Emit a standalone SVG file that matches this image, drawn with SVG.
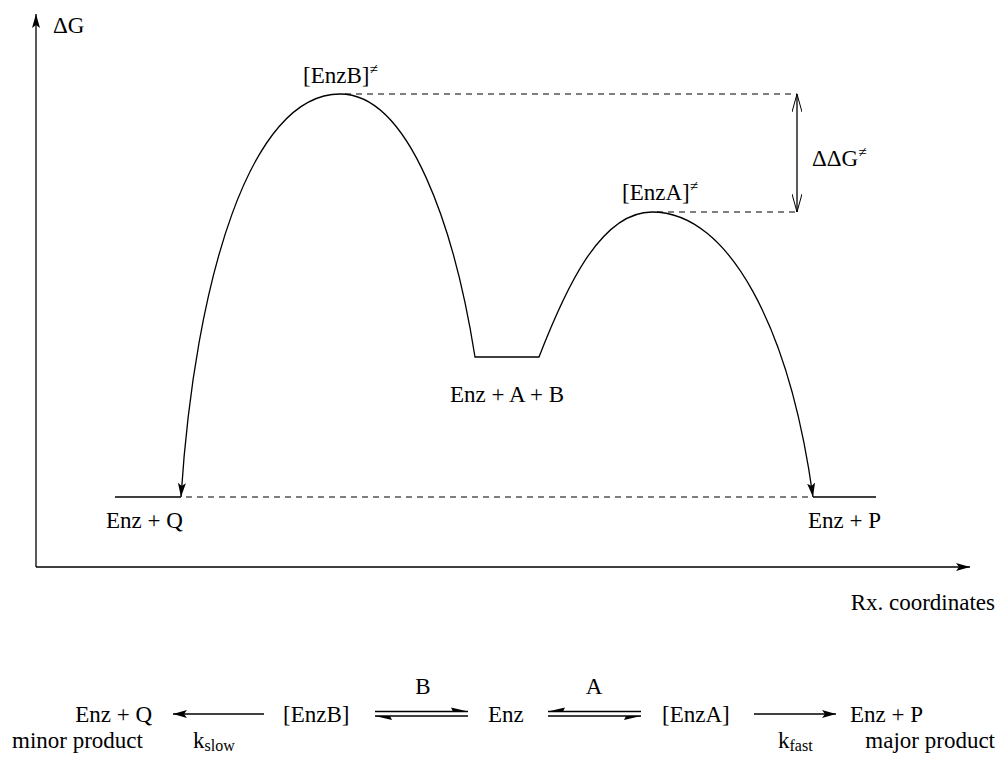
<svg xmlns="http://www.w3.org/2000/svg" width="1002" height="757" viewBox="0 0 1002 757">
<defs>
<style>
.ln{stroke:#000;stroke-width:1.3;fill:none}
.d{stroke:#000;stroke-width:1.1;fill:none;stroke-dasharray:6,5}
.t{font-family:'Liberation Serif','Times New Roman','DejaVu Serif',serif;font-size:23px;fill:#000}
</style>
<marker id="ah" viewBox="0 0 14 8" refX="14" refY="4" markerWidth="14" markerHeight="8" markerUnits="userSpaceOnUse" orient="auto"><path d="M0,0 L14,4 L0,8 L3,4 Z" fill="#000"/></marker>
<marker id="oh" viewBox="0 0 18 10" refX="18" refY="5" markerWidth="18" markerHeight="10" markerUnits="userSpaceOnUse" orient="auto"><path d="M0,0 L18,5 L0,10" fill="none" stroke="#000" stroke-width="1"/></marker>
</defs>
<g id="axes" class="t">
<line class="ln" x1="36" y1="567" x2="36" y2="14" marker-end="url(#ah)"/>
<line class="ln" x1="36" y1="567" x2="970" y2="567" marker-end="url(#ah)"/>
<text x="53" y="33">ΔG</text>
<text x="995" y="610" text-anchor="end">Rx. coordinates</text>
</g>
<g id="connectors">
<path class="ln" d="M340,94 C250,94 195,280 181,497" marker-end="url(#ah)"/>
<path class="ln" d="M340,94 C410,94 455,230 475,357 L539,357 C565,290 600,212 652,212"/>
<path class="ln" d="M652,212 C730,212 790,330 813,497" marker-end="url(#ah)"/>
<line class="ln" x1="115" y1="497" x2="181" y2="497"/>
<line class="ln" x1="813" y1="497" x2="876" y2="497"/>
<line class="d" x1="186" y1="497" x2="813" y2="497"/>
<line class="d" x1="345" y1="94" x2="797" y2="94"/>
<line class="d" x1="657" y1="212" x2="797" y2="212"/>
<line class="ln" x1="797" y1="153" x2="797" y2="94" marker-end="url(#oh)"/>
<line class="ln" x1="797" y1="153" x2="797" y2="212" marker-end="url(#oh)"/>
</g>
<g id="labels" class="t">
<text x="303" y="83">[EnzB]<tspan font-size="15" dy="-9">≠</tspan></text>
<text x="622" y="200">[EnzA]<tspan font-size="15" dy="-9">≠</tspan></text>
<text x="812" y="166">ΔΔG<tspan font-size="15" dy="-9">≠</tspan></text>
<text x="507" y="402" text-anchor="middle">Enz + A + B</text>
<text x="106" y="528">Enz + Q</text>
<text x="808" y="528">Enz + P</text>
</g>
<g id="scheme" class="t">
<text x="152" y="722" text-anchor="end">Enz + Q</text>
<text x="12" y="748">minor product</text>
<line class="ln" x1="264" y1="714" x2="173" y2="714" marker-end="url(#ah)"/>
<text x="193" y="748">k<tspan font-size="16" dy="3">slow</tspan></text>
<text x="283" y="722">[EnzB]</text>
<text x="423" y="694" text-anchor="middle">B</text>
<line class="ln" x1="375" y1="711.5" x2="468" y2="711.5"/>
<path d="M468,711.5 L451,707.5 L453,711.5 Z" fill="#000"/>
<line class="ln" x1="375" y1="716" x2="468" y2="716"/>
<path d="M375,716 L392,720 L390,716 Z" fill="#000"/>
<text x="488" y="722">Enz</text>
<text x="594" y="694" text-anchor="middle">A</text>
<line class="ln" x1="548" y1="711.5" x2="641" y2="711.5"/>
<path d="M548,711.5 L565,707.5 L563,711.5 Z" fill="#000"/>
<line class="ln" x1="548" y1="716" x2="641" y2="716"/>
<path d="M641,716 L624,720 L626,716 Z" fill="#000"/>
<text x="662" y="722">[EnzA]</text>
<line class="ln" x1="754" y1="714" x2="836" y2="714" marker-end="url(#ah)"/>
<text x="778" y="748">k<tspan font-size="16" dy="3">fast</tspan></text>
<text x="850" y="722">Enz + P</text>
<text x="995" y="748" text-anchor="end">major product</text>
</g>
</svg>
